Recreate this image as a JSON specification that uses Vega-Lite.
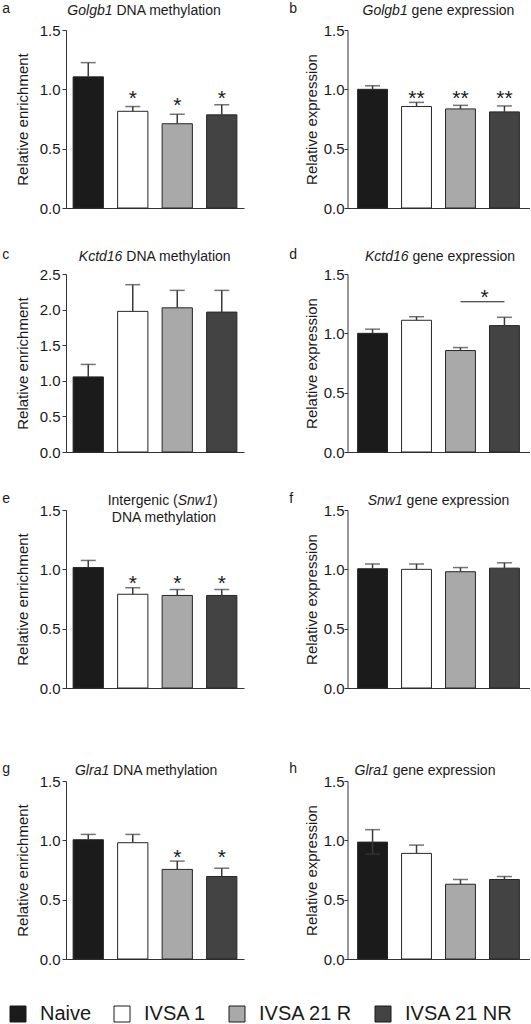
{
"$schema": "https://vega.github.io/schema/vega-lite/v6.json",
"padding": {"left": 2, "top": 2, "right": 0, "bottom": 0},
"config": {
  "font": "Liberation Sans",
  "view": {"stroke": null},
  "axis": {"grid": false, "labelOverlap": false, "domainColor": "#333333", "domainWidth": 1, "tickColor": "#333333", "tickSize": 4, "labelFontSize": 15, "labelColor": "#1a1a1a", "titleFontSize": 15, "titleFontWeight": "normal", "titleColor": "#1a1a1a"},
  "title": {"fontSize": 14, "fontWeight": "normal", "color": "#1a1a1a"},
  "text": {"color": "#1a1a1a"}
},
"datasets": {
  "bars": [
    {"panel": "a", "group": "Naive", "mean": 1.105, "upper": 1.225, "sig": "", "sig_y": null},
    {"panel": "a", "group": "IVSA 1", "mean": 0.815, "upper": 0.855, "sig": "*", "sig_y": 0.864},
    {"panel": "a", "group": "IVSA 21 R", "mean": 0.71, "upper": 0.79, "sig": "*", "sig_y": 0.811},
    {"panel": "a", "group": "IVSA 21 NR", "mean": 0.785, "upper": 0.87, "sig": "*", "sig_y": 0.867},
    {"panel": "b", "group": "Naive", "mean": 1.0, "upper": 1.03, "sig": "", "sig_y": null},
    {"panel": "b", "group": "IVSA 1", "mean": 0.855, "upper": 0.89, "sig": "**", "sig_y": 0.868},
    {"panel": "b", "group": "IVSA 21 R", "mean": 0.835, "upper": 0.865, "sig": "**", "sig_y": 0.868},
    {"panel": "b", "group": "IVSA 21 NR", "mean": 0.81, "upper": 0.86, "sig": "**", "sig_y": 0.868},
    {"panel": "c", "group": "Naive", "mean": 1.055, "upper": 1.23, "sig": "", "sig_y": null},
    {"panel": "c", "group": "IVSA 1", "mean": 1.975, "upper": 2.35, "sig": "", "sig_y": null},
    {"panel": "c", "group": "IVSA 21 R", "mean": 2.025, "upper": 2.27, "sig": "", "sig_y": null},
    {"panel": "c", "group": "IVSA 21 NR", "mean": 1.965, "upper": 2.27, "sig": "", "sig_y": null},
    {"panel": "d", "group": "Naive", "mean": 1.0, "upper": 1.035, "sig": "", "sig_y": null},
    {"panel": "d", "group": "IVSA 1", "mean": 1.11, "upper": 1.14, "sig": "", "sig_y": null},
    {"panel": "d", "group": "IVSA 21 R", "mean": 0.855, "upper": 0.88, "sig": "", "sig_y": null},
    {"panel": "d", "group": "IVSA 21 NR", "mean": 1.065, "upper": 1.135, "sig": "", "sig_y": null},
    {"panel": "e", "group": "Naive", "mean": 1.015, "upper": 1.075, "sig": "", "sig_y": null},
    {"panel": "e", "group": "IVSA 1", "mean": 0.79, "upper": 0.845, "sig": "*", "sig_y": 0.828},
    {"panel": "e", "group": "IVSA 21 R", "mean": 0.78, "upper": 0.83, "sig": "*", "sig_y": 0.828},
    {"panel": "e", "group": "IVSA 21 NR", "mean": 0.78, "upper": 0.83, "sig": "*", "sig_y": 0.828},
    {"panel": "f", "group": "Naive", "mean": 1.005, "upper": 1.045, "sig": "", "sig_y": null},
    {"panel": "f", "group": "IVSA 1", "mean": 1.0, "upper": 1.045, "sig": "", "sig_y": null},
    {"panel": "f", "group": "IVSA 21 R", "mean": 0.98, "upper": 1.015, "sig": "", "sig_y": null},
    {"panel": "f", "group": "IVSA 21 NR", "mean": 1.01, "upper": 1.055, "sig": "", "sig_y": null},
    {"panel": "g", "group": "Naive", "mean": 1.005, "upper": 1.05, "sig": "", "sig_y": null},
    {"panel": "g", "group": "IVSA 1", "mean": 0.98, "upper": 1.05, "sig": "", "sig_y": null},
    {"panel": "g", "group": "IVSA 21 R", "mean": 0.755, "upper": 0.825, "sig": "*", "sig_y": 0.804},
    {"panel": "g", "group": "IVSA 21 NR", "mean": 0.695, "upper": 0.765, "sig": "*", "sig_y": 0.804},
    {"panel": "h", "group": "Naive", "mean": 0.985, "upper": 1.09, "lower": 0.885, "sig": "", "sig_y": null},
    {"panel": "h", "group": "IVSA 1", "mean": 0.89, "upper": 0.96, "sig": "", "sig_y": null},
    {"panel": "h", "group": "IVSA 21 R", "mean": 0.63, "upper": 0.67, "sig": "", "sig_y": null},
    {"panel": "h", "group": "IVSA 21 NR", "mean": 0.67, "upper": 0.695, "sig": "", "sig_y": null}
  ],
  "brackets": [
    {"panel": "d", "from": "IVSA 21 R", "to": "IVSA 21 NR", "y": 1.266, "label": "*", "label_y": 1.25}
  ]
},
"data": {"name": "bars"},
"spacing": 66,
"vconcat": [
{"spacing": 32, "vconcat": [
{"spacing": 44.5, "hconcat": [
{
 "width": 178, "height": 178,
 "title": {"text": "a", "anchor": "start", "frame": "bounds", "dx": -13, "offset": -24, "baseline": "alphabetic"},
 "transform": [{"filter": "datum.panel === 'a'"}],
 "layer": [
  {"mark": {"type": "bar", "stroke": "#262626", "strokeWidth": 1},
   "encoding": {
    "x": {"field": "group", "type": "nominal", "scale": {"domain": ["Naive", "IVSA 1", "IVSA 21 R", "IVSA 21 NR"], "paddingInner": 0.32, "paddingOuter": 0.16}, "axis": {"orient": "bottom", "title": null, "labels": false, "ticks": false}},
    "y": {"field": "mean", "type": "quantitative", "title": "Relative enrichment", "scale": {"domain": [0, 1.5], "nice": false}, "axis": {"values": [0, 0.5, 1, 1.5], "format": ".1f", "titlePadding": 9, "labelPadding": 2}},
    "fill": {"field": "group", "type": "nominal", "scale": {"domain": ["Naive", "IVSA 1", "IVSA 21 R", "IVSA 21 NR"], "range": ["#1b1b1b", "#ffffff", "#a9a9a9", "#434343"]},
      "legend": {"orient": "none", "legendX": -58, "legendY": 974, "direction": "horizontal", "title": null, "symbolType": "square", "symbolSize": 256, "symbolStrokeColor": "#1a1a1a", "symbolStrokeWidth": 1, "labelFontSize": 20, "labelOffset": 12, "columnPadding": 20, "labelColor": "#1a1a1a"}}
   }},
  {"mark": {"type": "rule", "color": "#3a3a3a", "strokeWidth": 1.5},
   "encoding": {"x": {"field": "group", "type": "nominal", "axis": null}, "y": {"field": "mean", "type": "quantitative", "title": "Relative enrichment"}, "y2": {"field": "upper"}}},
  {"mark": {"type": "tick", "color": "#3a3a3a", "thickness": 1.5, "size": 15},
   "encoding": {"x": {"field": "group", "type": "nominal", "axis": null}, "y": {"field": "upper", "type": "quantitative", "title": "Relative enrichment"}}},
  {"transform": [{"filter": "datum.sig"}], "mark": {"type": "text", "fontSize": 21, "baseline": "alphabetic"},
   "encoding": {"x": {"field": "group", "type": "nominal", "axis": null}, "y": {"field": "sig_y", "type": "quantitative", "title": "Relative enrichment"}, "text": {"field": "sig"}}},
  {"transform": [{"filter": "false"}], "mark": {"type": "point", "opacity": 0},
   "encoding": {"y": {"field": "mean", "type": "quantitative", "title": "Relative enrichment"}, "x": {"field": "group", "type": "nominal", "axis": {"orient": "top", "title": "Golgb1", "titleFontStyle": "italic", "titleAlign": "right", "titleX": 46, "titlePadding": 16, "labels": false, "ticks": false, "domain": false, "titleFontSize": 14, "titleBaseline": "alphabetic"}}}},
  {"transform": [{"filter": "false"}], "mark": {"type": "point", "opacity": 0},
   "encoding": {"y": {"field": "mean", "type": "quantitative", "title": "Relative enrichment"}, "x": {"field": "group", "type": "nominal", "axis": {"orient": "top", "title": "DNA methylation", "titleAlign": "left", "titleX": 50, "titlePadding": 16, "labels": false, "ticks": false, "domain": false, "titleFontSize": 14, "titleBaseline": "alphabetic"}}}}
 ],
 "resolve": {"axis": {"x": "independent"}}
},
{
 "width": 182, "height": 178,
 "title": {"text": "b", "anchor": "start", "frame": "bounds", "dx": -15, "offset": -24, "baseline": "alphabetic"},
 "transform": [{"filter": "datum.panel === 'b'"}],
 "layer": [
  {"mark": {"type": "bar", "stroke": "#262626", "strokeWidth": 1},
   "encoding": {
    "x": {"field": "group", "type": "nominal", "scale": {"domain": ["Naive", "IVSA 1", "IVSA 21 R", "IVSA 21 NR"], "paddingInner": 0.32, "paddingOuter": 0.23}, "axis": {"orient": "bottom", "title": null, "labels": false, "ticks": false}},
    "y": {"field": "mean", "type": "quantitative", "title": "Relative expression", "scale": {"domain": [0, 1.5], "nice": false}, "axis": {"values": [0, 0.5, 1, 1.5], "format": ".1f", "titlePadding": 4, "labelPadding": 0, "tickSize": 3.5}},
    "fill": {"field": "group", "type": "nominal", "legend": null}
   }},
  {"mark": {"type": "rule", "color": "#3a3a3a", "strokeWidth": 1.5},
   "encoding": {"x": {"field": "group", "type": "nominal", "axis": null}, "y": {"field": "mean", "type": "quantitative", "title": "Relative expression"}, "y2": {"field": "upper"}}},
  {"mark": {"type": "tick", "color": "#3a3a3a", "thickness": 1.5, "size": 15},
   "encoding": {"x": {"field": "group", "type": "nominal", "axis": null}, "y": {"field": "upper", "type": "quantitative", "title": "Relative expression"}}},
  {"transform": [{"filter": "datum.sig"}], "mark": {"type": "text", "fontSize": 21, "baseline": "alphabetic"},
   "encoding": {"x": {"field": "group", "type": "nominal", "axis": null}, "y": {"field": "sig_y", "type": "quantitative", "title": "Relative expression"}, "text": {"field": "sig"}}},
  {"transform": [{"filter": "false"}], "mark": {"type": "point", "opacity": 0},
   "encoding": {"y": {"field": "mean", "type": "quantitative", "title": "Relative expression"}, "x": {"field": "group", "type": "nominal", "axis": {"orient": "top", "title": "Golgb1", "titleFontStyle": "italic", "titleAlign": "right", "titleX": 59.7, "titlePadding": 16, "labels": false, "ticks": false, "domain": false, "titleFontSize": 14, "titleBaseline": "alphabetic"}}}},
  {"transform": [{"filter": "false"}], "mark": {"type": "point", "opacity": 0},
   "encoding": {"y": {"field": "mean", "type": "quantitative", "title": "Relative expression"}, "x": {"field": "group", "type": "nominal", "axis": {"orient": "top", "title": "gene expression", "titleAlign": "left", "titleX": 63.6, "titlePadding": 16, "labels": false, "ticks": false, "domain": false, "titleFontSize": 14, "titleBaseline": "alphabetic"}}}}
 ],
 "resolve": {"axis": {"x": "independent"}}
}
]},
{"spacing": 44.5, "hconcat": [
{
 "width": 178, "height": 178,
 "title": {"text": "c", "anchor": "start", "frame": "bounds", "dx": -13, "offset": -24, "baseline": "alphabetic"},
 "transform": [{"filter": "datum.panel === 'c'"}],
 "layer": [
  {"mark": {"type": "bar", "stroke": "#262626", "strokeWidth": 1},
   "encoding": {
    "x": {"field": "group", "type": "nominal", "scale": {"domain": ["Naive", "IVSA 1", "IVSA 21 R", "IVSA 21 NR"], "paddingInner": 0.32, "paddingOuter": 0.16}, "axis": {"orient": "bottom", "title": null, "labels": false, "ticks": false}},
    "y": {"field": "mean", "type": "quantitative", "title": "Relative enrichment", "scale": {"domain": [0, 2.5], "nice": false}, "axis": {"values": [0, 0.5, 1, 1.5, 2, 2.5], "tickCount": 6, "format": ".1f", "titlePadding": 9, "labelPadding": 2, "labelOverlap": false}},
    "fill": {"field": "group", "type": "nominal", "legend": null}
   }},
  {"mark": {"type": "rule", "color": "#3a3a3a", "strokeWidth": 1.5},
   "encoding": {"x": {"field": "group", "type": "nominal", "axis": null}, "y": {"field": "mean", "type": "quantitative", "title": "Relative enrichment", "axis": {"values": [0, 0.5, 1, 1.5, 2, 2.5], "tickCount": 6, "format": ".1f", "titlePadding": 9, "labelPadding": 2, "labelOverlap": false}}, "y2": {"field": "upper"}}},
  {"mark": {"type": "tick", "color": "#3a3a3a", "thickness": 1.5, "size": 15},
   "encoding": {"x": {"field": "group", "type": "nominal", "axis": null}, "y": {"field": "upper", "type": "quantitative", "title": "Relative enrichment", "axis": {"values": [0, 0.5, 1, 1.5, 2, 2.5], "tickCount": 6, "format": ".1f", "titlePadding": 9, "labelPadding": 2, "labelOverlap": false}}}},
  {"transform": [{"filter": "false"}], "mark": {"type": "point", "opacity": 0},
   "encoding": {"y": {"field": "mean", "type": "quantitative", "title": "Relative enrichment", "axis": {"values": [0, 0.5, 1, 1.5, 2, 2.5], "tickCount": 6, "format": ".1f", "titlePadding": 9, "labelPadding": 2, "labelOverlap": false}}, "x": {"field": "group", "type": "nominal", "axis": {"orient": "top", "title": "Kctd16", "titleFontStyle": "italic", "titleAlign": "right", "titleX": 55.9, "titlePadding": 14, "labels": false, "ticks": false, "domain": false, "titleFontSize": 14, "titleBaseline": "alphabetic"}}}},
  {"transform": [{"filter": "false"}], "mark": {"type": "point", "opacity": 0},
   "encoding": {"y": {"field": "mean", "type": "quantitative", "title": "Relative enrichment", "axis": {"values": [0, 0.5, 1, 1.5, 2, 2.5], "tickCount": 6, "format": ".1f", "titlePadding": 9, "labelPadding": 2, "labelOverlap": false}}, "x": {"field": "group", "type": "nominal", "axis": {"orient": "top", "title": "DNA methylation", "titleAlign": "left", "titleX": 59.8, "titlePadding": 14, "labels": false, "ticks": false, "domain": false, "titleFontSize": 14, "titleBaseline": "alphabetic"}}}}
 ],
 "resolve": {"axis": {"x": "independent"}}
},
{
 "width": 182, "height": 178,
 "title": {"text": "d", "anchor": "start", "frame": "bounds", "dx": -15, "offset": -24, "baseline": "alphabetic"},
 "transform": [{"filter": "datum.panel === 'd'"}],
 "layer": [
  {"mark": {"type": "bar", "stroke": "#262626", "strokeWidth": 1},
   "encoding": {
    "x": {"field": "group", "type": "nominal", "scale": {"domain": ["Naive", "IVSA 1", "IVSA 21 R", "IVSA 21 NR"], "paddingInner": 0.32, "paddingOuter": 0.23}, "axis": {"orient": "bottom", "title": null, "labels": false, "ticks": false}},
    "y": {"field": "mean", "type": "quantitative", "title": "Relative expression", "scale": {"domain": [0, 1.5], "nice": false}, "axis": {"values": [0, 0.5, 1, 1.5], "format": ".1f", "titlePadding": 4, "labelPadding": 0, "tickSize": 3.5}},
    "fill": {"field": "group", "type": "nominal", "legend": null}
   }},
  {"mark": {"type": "rule", "color": "#3a3a3a", "strokeWidth": 1.5},
   "encoding": {"x": {"field": "group", "type": "nominal", "axis": null}, "y": {"field": "mean", "type": "quantitative", "title": "Relative expression"}, "y2": {"field": "upper"}}},
  {"mark": {"type": "tick", "color": "#3a3a3a", "thickness": 1.5, "size": 15},
   "encoding": {"x": {"field": "group", "type": "nominal", "axis": null}, "y": {"field": "upper", "type": "quantitative", "title": "Relative expression"}}},
  {"data": {"name": "brackets"}, "mark": {"type": "rule", "color": "#1a1a1a", "strokeWidth": 1.2},
   "encoding": {"x": {"field": "from", "type": "nominal", "axis": null}, "x2": {"field": "to"}, "y": {"field": "y", "type": "quantitative", "title": "Relative expression"}}},
  {"data": {"name": "brackets"}, "mark": {"type": "text", "fontSize": 21, "baseline": "alphabetic", "dx": 24},
   "encoding": {"x": {"field": "from", "type": "nominal", "axis": null}, "y": {"field": "label_y", "type": "quantitative", "title": "Relative expression"}, "text": {"field": "label"}}},
  {"transform": [{"filter": "false"}], "mark": {"type": "point", "opacity": 0},
   "encoding": {"y": {"field": "mean", "type": "quantitative", "title": "Relative expression"}, "x": {"field": "group", "type": "nominal", "axis": {"orient": "top", "title": "Kctd16", "titleFontStyle": "italic", "titleAlign": "right", "titleX": 60.5, "titlePadding": 14, "labels": false, "ticks": false, "domain": false, "titleFontSize": 14, "titleBaseline": "alphabetic"}}}},
  {"transform": [{"filter": "false"}], "mark": {"type": "point", "opacity": 0},
   "encoding": {"y": {"field": "mean", "type": "quantitative", "title": "Relative expression"}, "x": {"field": "group", "type": "nominal", "axis": {"orient": "top", "title": "gene expression", "titleAlign": "left", "titleX": 64.4, "titlePadding": 14, "labels": false, "ticks": false, "domain": false, "titleFontSize": 14, "titleBaseline": "alphabetic"}}}}
 ],
 "resolve": {"axis": {"x": "independent"}}
}
]},
{"spacing": 44.5, "hconcat": [
{
 "width": 178, "height": 178,
 "title": {"text": "e", "anchor": "start", "frame": "bounds", "dx": -13, "offset": -24, "baseline": "alphabetic"},
 "transform": [{"filter": "datum.panel === 'e'"}],
 "layer": [
  {"mark": {"type": "bar", "stroke": "#262626", "strokeWidth": 1},
   "encoding": {
    "x": {"field": "group", "type": "nominal", "scale": {"domain": ["Naive", "IVSA 1", "IVSA 21 R", "IVSA 21 NR"], "paddingInner": 0.32, "paddingOuter": 0.16}, "axis": {"orient": "bottom", "title": null, "labels": false, "ticks": false}},
    "y": {"field": "mean", "type": "quantitative", "title": "Relative enrichment", "scale": {"domain": [0, 1.5], "nice": false}, "axis": {"values": [0, 0.5, 1, 1.5], "format": ".1f", "titlePadding": 9, "labelPadding": 2}},
    "fill": {"field": "group", "type": "nominal", "legend": null}
   }},
  {"mark": {"type": "rule", "color": "#3a3a3a", "strokeWidth": 1.5},
   "encoding": {"x": {"field": "group", "type": "nominal", "axis": null}, "y": {"field": "mean", "type": "quantitative", "title": "Relative enrichment"}, "y2": {"field": "upper"}}},
  {"mark": {"type": "tick", "color": "#3a3a3a", "thickness": 1.5, "size": 15},
   "encoding": {"x": {"field": "group", "type": "nominal", "axis": null}, "y": {"field": "upper", "type": "quantitative", "title": "Relative enrichment"}}},
  {"transform": [{"filter": "datum.sig"}], "mark": {"type": "text", "fontSize": 21, "baseline": "alphabetic"},
   "encoding": {"x": {"field": "group", "type": "nominal", "axis": null}, "y": {"field": "sig_y", "type": "quantitative", "title": "Relative enrichment"}, "text": {"field": "sig"}}},
  {"transform": [{"filter": "false"}], "mark": {"type": "point", "opacity": 0},
   "encoding": {"y": {"field": "mean", "type": "quantitative", "title": "Relative enrichment"}, "x": {"field": "group", "type": "nominal", "axis": {"orient": "top", "title": "Intergenic (", "titleAlign": "right", "titleX": 111.2, "titlePadding": 6, "labels": false, "ticks": false, "domain": false, "titleFontSize": 14, "titleBaseline": "alphabetic"}}}},
  {"transform": [{"filter": "false"}], "mark": {"type": "point", "opacity": 0},
   "encoding": {"y": {"field": "mean", "type": "quantitative", "title": "Relative enrichment"}, "x": {"field": "group", "type": "nominal", "axis": {"orient": "top", "title": "Snw1", "titleFontStyle": "italic", "titleAlign": "left", "titleX": 111.2, "titlePadding": 6, "labels": false, "ticks": false, "domain": false, "titleFontSize": 14, "titleBaseline": "alphabetic"}}}},
  {"transform": [{"filter": "false"}], "mark": {"type": "point", "opacity": 0},
   "encoding": {"y": {"field": "mean", "type": "quantitative", "title": "Relative enrichment"}, "x": {"field": "group", "type": "nominal", "axis": {"orient": "top", "title": ")", "titleAlign": "left", "titleX": 146.5, "titlePadding": 6, "labels": false, "ticks": false, "domain": false, "titleFontSize": 14, "titleBaseline": "alphabetic"}}}},
  {"transform": [{"filter": "false"}], "mark": {"type": "point", "opacity": 0},
   "encoding": {"y": {"field": "mean", "type": "quantitative", "title": "Relative enrichment"}, "x": {"field": "group", "type": "nominal", "axis": {"orient": "top", "title": "DNA methylation", "titleAlign": "center", "titleX": 97.5, "titlePadding": -11, "labels": false, "ticks": false, "domain": false, "titleFontSize": 14, "titleBaseline": "alphabetic"}}}}
 ],
 "resolve": {"axis": {"x": "independent"}}
},
{
 "width": 182, "height": 178,
 "title": {"text": "f", "anchor": "start", "frame": "bounds", "dx": -15, "offset": -24, "baseline": "alphabetic"},
 "transform": [{"filter": "datum.panel === 'f'"}],
 "layer": [
  {"mark": {"type": "bar", "stroke": "#262626", "strokeWidth": 1},
   "encoding": {
    "x": {"field": "group", "type": "nominal", "scale": {"domain": ["Naive", "IVSA 1", "IVSA 21 R", "IVSA 21 NR"], "paddingInner": 0.32, "paddingOuter": 0.23}, "axis": {"orient": "bottom", "title": null, "labels": false, "ticks": false}},
    "y": {"field": "mean", "type": "quantitative", "title": "Relative expression", "scale": {"domain": [0, 1.5], "nice": false}, "axis": {"values": [0, 0.5, 1, 1.5], "format": ".1f", "titlePadding": 4, "labelPadding": 0, "tickSize": 3.5}},
    "fill": {"field": "group", "type": "nominal", "legend": null}
   }},
  {"mark": {"type": "rule", "color": "#3a3a3a", "strokeWidth": 1.5},
   "encoding": {"x": {"field": "group", "type": "nominal", "axis": null}, "y": {"field": "mean", "type": "quantitative", "title": "Relative expression"}, "y2": {"field": "upper"}}},
  {"mark": {"type": "tick", "color": "#3a3a3a", "thickness": 1.5, "size": 15},
   "encoding": {"x": {"field": "group", "type": "nominal", "axis": null}, "y": {"field": "upper", "type": "quantitative", "title": "Relative expression"}}},
  {"transform": [{"filter": "false"}], "mark": {"type": "point", "opacity": 0},
   "encoding": {"y": {"field": "mean", "type": "quantitative", "title": "Relative expression"}, "x": {"field": "group", "type": "nominal", "axis": {"orient": "top", "title": "Snw1", "titleFontStyle": "italic", "titleAlign": "right", "titleX": 54.7, "titlePadding": 6, "labels": false, "ticks": false, "domain": false, "titleFontSize": 14, "titleBaseline": "alphabetic"}}}},
  {"transform": [{"filter": "false"}], "mark": {"type": "point", "opacity": 0},
   "encoding": {"y": {"field": "mean", "type": "quantitative", "title": "Relative expression"}, "x": {"field": "group", "type": "nominal", "axis": {"orient": "top", "title": "gene expression", "titleAlign": "left", "titleX": 58.6, "titlePadding": 6, "labels": false, "ticks": false, "domain": false, "titleFontSize": 14, "titleBaseline": "alphabetic"}}}}
 ],
 "resolve": {"axis": {"x": "independent"}}
}
]}
]},
{"spacing": 44.5, "hconcat": [
{
 "width": 178, "height": 178,
 "title": {"text": "g", "anchor": "start", "frame": "bounds", "dx": -13, "offset": -24, "baseline": "alphabetic"},
 "transform": [{"filter": "datum.panel === 'g'"}],
 "layer": [
  {"mark": {"type": "bar", "stroke": "#262626", "strokeWidth": 1},
   "encoding": {
    "x": {"field": "group", "type": "nominal", "scale": {"domain": ["Naive", "IVSA 1", "IVSA 21 R", "IVSA 21 NR"], "paddingInner": 0.32, "paddingOuter": 0.16}, "axis": {"orient": "bottom", "title": null, "labels": false, "ticks": false}},
    "y": {"field": "mean", "type": "quantitative", "title": "Relative enrichment", "scale": {"domain": [0, 1.5], "nice": false}, "axis": {"values": [0, 0.5, 1, 1.5], "format": ".1f", "titlePadding": 9, "labelPadding": 2}},
    "fill": {"field": "group", "type": "nominal", "legend": null}
   }},
  {"mark": {"type": "rule", "color": "#3a3a3a", "strokeWidth": 1.5},
   "encoding": {"x": {"field": "group", "type": "nominal", "axis": null}, "y": {"field": "mean", "type": "quantitative", "title": "Relative enrichment"}, "y2": {"field": "upper"}}},
  {"mark": {"type": "tick", "color": "#3a3a3a", "thickness": 1.5, "size": 15},
   "encoding": {"x": {"field": "group", "type": "nominal", "axis": null}, "y": {"field": "upper", "type": "quantitative", "title": "Relative enrichment"}}},
  {"transform": [{"filter": "datum.sig"}], "mark": {"type": "text", "fontSize": 21, "baseline": "alphabetic"},
   "encoding": {"x": {"field": "group", "type": "nominal", "axis": null}, "y": {"field": "sig_y", "type": "quantitative", "title": "Relative enrichment"}, "text": {"field": "sig"}}},
  {"transform": [{"filter": "false"}], "mark": {"type": "point", "opacity": 0},
   "encoding": {"y": {"field": "mean", "type": "quantitative", "title": "Relative enrichment"}, "x": {"field": "group", "type": "nominal", "axis": {"orient": "top", "title": "Glra1", "titleFontStyle": "italic", "titleAlign": "right", "titleX": 42.7, "titlePadding": 7, "labels": false, "ticks": false, "domain": false, "titleFontSize": 14, "titleBaseline": "alphabetic"}}}},
  {"transform": [{"filter": "false"}], "mark": {"type": "point", "opacity": 0},
   "encoding": {"y": {"field": "mean", "type": "quantitative", "title": "Relative enrichment"}, "x": {"field": "group", "type": "nominal", "axis": {"orient": "top", "title": "DNA methylation", "titleAlign": "left", "titleX": 46.6, "titlePadding": 7, "labels": false, "ticks": false, "domain": false, "titleFontSize": 14, "titleBaseline": "alphabetic"}}}}
 ],
 "resolve": {"axis": {"x": "independent"}}
},
{
 "width": 182, "height": 178,
 "title": {"text": "h", "anchor": "start", "frame": "bounds", "dx": -15, "offset": -24, "baseline": "alphabetic"},
 "transform": [{"filter": "datum.panel === 'h'"}],
 "layer": [
  {"mark": {"type": "bar", "stroke": "#262626", "strokeWidth": 1},
   "encoding": {
    "x": {"field": "group", "type": "nominal", "scale": {"domain": ["Naive", "IVSA 1", "IVSA 21 R", "IVSA 21 NR"], "paddingInner": 0.32, "paddingOuter": 0.23}, "axis": {"orient": "bottom", "title": null, "labels": false, "ticks": false}},
    "y": {"field": "mean", "type": "quantitative", "title": "Relative expression", "scale": {"domain": [0, 1.5], "nice": false}, "axis": {"values": [0, 0.5, 1, 1.5], "format": ".1f", "titlePadding": 4, "labelPadding": 0, "tickSize": 3.5}},
    "fill": {"field": "group", "type": "nominal", "legend": null}
   }},
  {"mark": {"type": "rule", "color": "#3a3a3a", "strokeWidth": 1.5},
   "encoding": {"x": {"field": "group", "type": "nominal", "axis": null}, "y": {"field": "mean", "type": "quantitative", "title": "Relative expression"}, "y2": {"field": "upper"}}},
  {"mark": {"type": "tick", "color": "#3a3a3a", "thickness": 1.5, "size": 15},
   "encoding": {"x": {"field": "group", "type": "nominal", "axis": null}, "y": {"field": "upper", "type": "quantitative", "title": "Relative expression"}}},
  {"transform": [{"filter": "datum.lower != null"}], "mark": {"type": "rule", "color": "#3a3a3a", "strokeWidth": 1.5},
   "encoding": {"x": {"field": "group", "type": "nominal", "axis": null}, "y": {"field": "lower", "type": "quantitative", "title": "Relative expression"}, "y2": {"field": "mean"}}},
  {"transform": [{"filter": "datum.lower != null"}], "mark": {"type": "tick", "color": "#3a3a3a", "thickness": 1.5, "size": 15},
   "encoding": {"x": {"field": "group", "type": "nominal", "axis": null}, "y": {"field": "lower", "type": "quantitative", "title": "Relative expression"}}},
  {"transform": [{"filter": "false"}], "mark": {"type": "point", "opacity": 0},
   "encoding": {"y": {"field": "mean", "type": "quantitative", "title": "Relative expression"}, "x": {"field": "group", "type": "nominal", "axis": {"orient": "top", "title": "Glra1", "titleFontStyle": "italic", "titleAlign": "right", "titleX": 40.8, "titlePadding": 7, "labels": false, "ticks": false, "domain": false, "titleFontSize": 14, "titleBaseline": "alphabetic"}}}},
  {"transform": [{"filter": "false"}], "mark": {"type": "point", "opacity": 0},
   "encoding": {"y": {"field": "mean", "type": "quantitative", "title": "Relative expression"}, "x": {"field": "group", "type": "nominal", "axis": {"orient": "top", "title": "gene expression", "titleAlign": "left", "titleX": 44.7, "titlePadding": 7, "labels": false, "ticks": false, "domain": false, "titleFontSize": 14, "titleBaseline": "alphabetic"}}}}
 ],
 "resolve": {"axis": {"x": "independent"}}
}
]}
]
}
